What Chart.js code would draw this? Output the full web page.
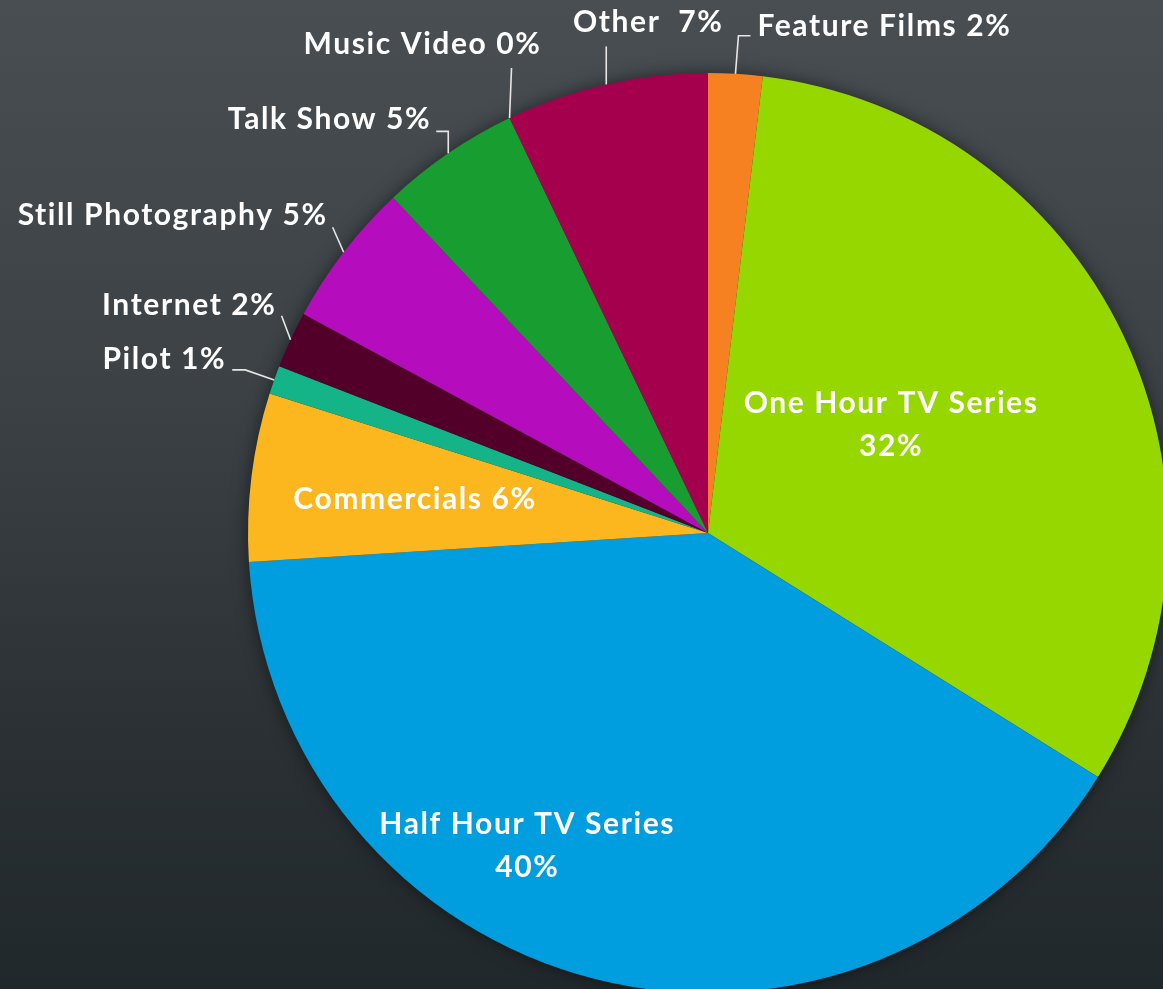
<!DOCTYPE html>
<html>
<head>
<meta charset="utf-8">
<script src="https://cdn.jsdelivr.net/npm/chart.js@4.4.1/dist/chart.umd.min.js"></script>
<style>
  html, body { margin: 0; padding: 0; width: 1163px; height: 989px; overflow: hidden; }
  body { background: linear-gradient(to bottom, #484e52 0%, #3b4145 40%, #2a3033 75%, #21282b 100%); }
  #wrap { position: absolute; left: 0; top: 0; width: 1200px; height: 1000px; }
  canvas { display: block; }
</style>
</head>
<body>
<div id="wrap"><canvas id="myPieChart" width="1200" height="1000"></canvas></div>
<script>
// data, clockwise from 12 o'clock
const categories = ['Feature Films', 'One Hour TV Series', 'Half Hour TV Series', 'Commercials', 'Pilot',
    'Internet', 'Still Photography', 'Talk Show', 'Music Video', 'Other'];
const shares = [1.9, 32, 40.1, 5.9, 1, 2, 5.1, 4.9, 0, 7.1];
const shownPct = ['2%', '32%', '40%', '6%', '1%', '2%', '5%', '5%', '0%', '7%'];
const sliceColors = ['#f68121', '#97d700', '#009ddf', '#fdb71e', '#14b388',
    '#52002a', '#b50cbd', '#189e30', '#189e30', '#a5004e'];

const FONT = 'bold 30px Lato, "Open Sans", sans-serif';

// label placement: inside labels sit at (dx, dy) * radius from centre,
// outside labels hang off the mid point of the arc with a leader line
const labelLayout = [
    { out: true, pts: [[3, -38], [15, -38]], text: [22, -38], align: 'left' },
    { out: false, at: [0.398, -0.235], lines: ['One Hour TV Series', '32%'] },
    { out: false, at: [-0.393, 0.680], lines: ['Half Hour TV Series', '40%'] },
    { out: false, at: [-0.637, -0.074], lines: ['Commercials 6%'] },
    { out: true, pts: [[-29, -10], [-42, -10]], text: [-48, -11], align: 'right' },
    { out: true, pts: [[-9, -24]], text: [-14, -25], align: 'right' },
    { out: true, pts: [[-11, -25]], text: [-16, -27], align: 'right' },
    { out: true, pts: [[0, -22], [-12, -22]], text: [-17, -24], align: 'right' },
    { out: true, pts: [[2, -50]], text: [32, -64], align: 'right' },
    { out: true, pts: [[0, -38]], text: [42, -52], align: 'center', label: 'Other  7%' }
];

const pieShadow = {
    id: 'pieShadow',
    beforeDatasetsDraw(chart) {
        const arc = chart.getDatasetMeta(0).data[0];
        const ctx = chart.ctx;
        ctx.save();
        ctx.shadowColor = 'rgba(0,0,0,0.55)';
        ctx.shadowBlur = 18;
        ctx.fillStyle = '#2a3033';
        ctx.beginPath();
        ctx.arc(arc.x, arc.y, arc.outerRadius - 1, 0, Math.PI * 2);
        ctx.fill();
        ctx.restore();
    }
};

const sliceLabels = {
    id: 'sliceLabels',
    afterDatasetsDraw(chart) {
        const ctx = chart.ctx;
        const arcs = chart.getDatasetMeta(0).data;
        ctx.save();
        ctx.font = FONT;
        ctx.letterSpacing = '1.6px';
        ctx.fillStyle = '#ffffff';
        ctx.strokeStyle = '#e6e6e6';
        ctx.lineWidth = 1.6;
        arcs.forEach((arc, i) => {
            const lay = labelLayout[i];
            const r = arc.outerRadius;
            if (!lay.out) {
                const cx = arc.x + lay.at[0] * r;
                const cy = arc.y + lay.at[1] * r;
                ctx.textAlign = 'center';
                ctx.textBaseline = 'middle';
                const lh = 43;
                lay.lines.forEach((t, k) => {
                    ctx.fillText(t, cx, cy + (k - (lay.lines.length - 1) / 2) * lh);
                });
                return;
            }
            const mid = (arc.startAngle + arc.endAngle) / 2;
            const ax = arc.x + Math.cos(mid) * r;
            const ay = arc.y + Math.sin(mid) * r;
            ctx.beginPath();
            ctx.moveTo(ax, ay);
            lay.pts.forEach(p => ctx.lineTo(ax + p[0], ay + p[1]));
            ctx.stroke();
            ctx.textAlign = lay.align;
            ctx.textBaseline = 'alphabetic';
            const txt = lay.label || (categories[i] + ' ' + shownPct[i]);
            ctx.fillText(txt, ax + lay.text[0], ay + lay.text[1]);
        });
        ctx.restore();
    }
};

function piechart() {
    const ctx = document.getElementById('myPieChart')?.getContext('2d');
    if (!ctx) {
        console.error("Pie chart canvas not found!");
        return;
    }

    new Chart(ctx, {
        type: 'pie',
        data: {
            labels: categories,
            datasets: [{
                data: shares,
                backgroundColor: sliceColors,
                borderWidth: 0
            }]
        },
        options: {
            responsive: false,
            animation: false,
            layout: { padding: { left: 248, top: 73, right: 32, bottom: 7 } },
            plugins: {
                legend: { display: false },
                tooltip: { enabled: false }
            }
        },
        plugins: [pieShadow, sliceLabels]
    });
}

window.onload = function() {
    piechart();
};
</script>
</body>
</html>
